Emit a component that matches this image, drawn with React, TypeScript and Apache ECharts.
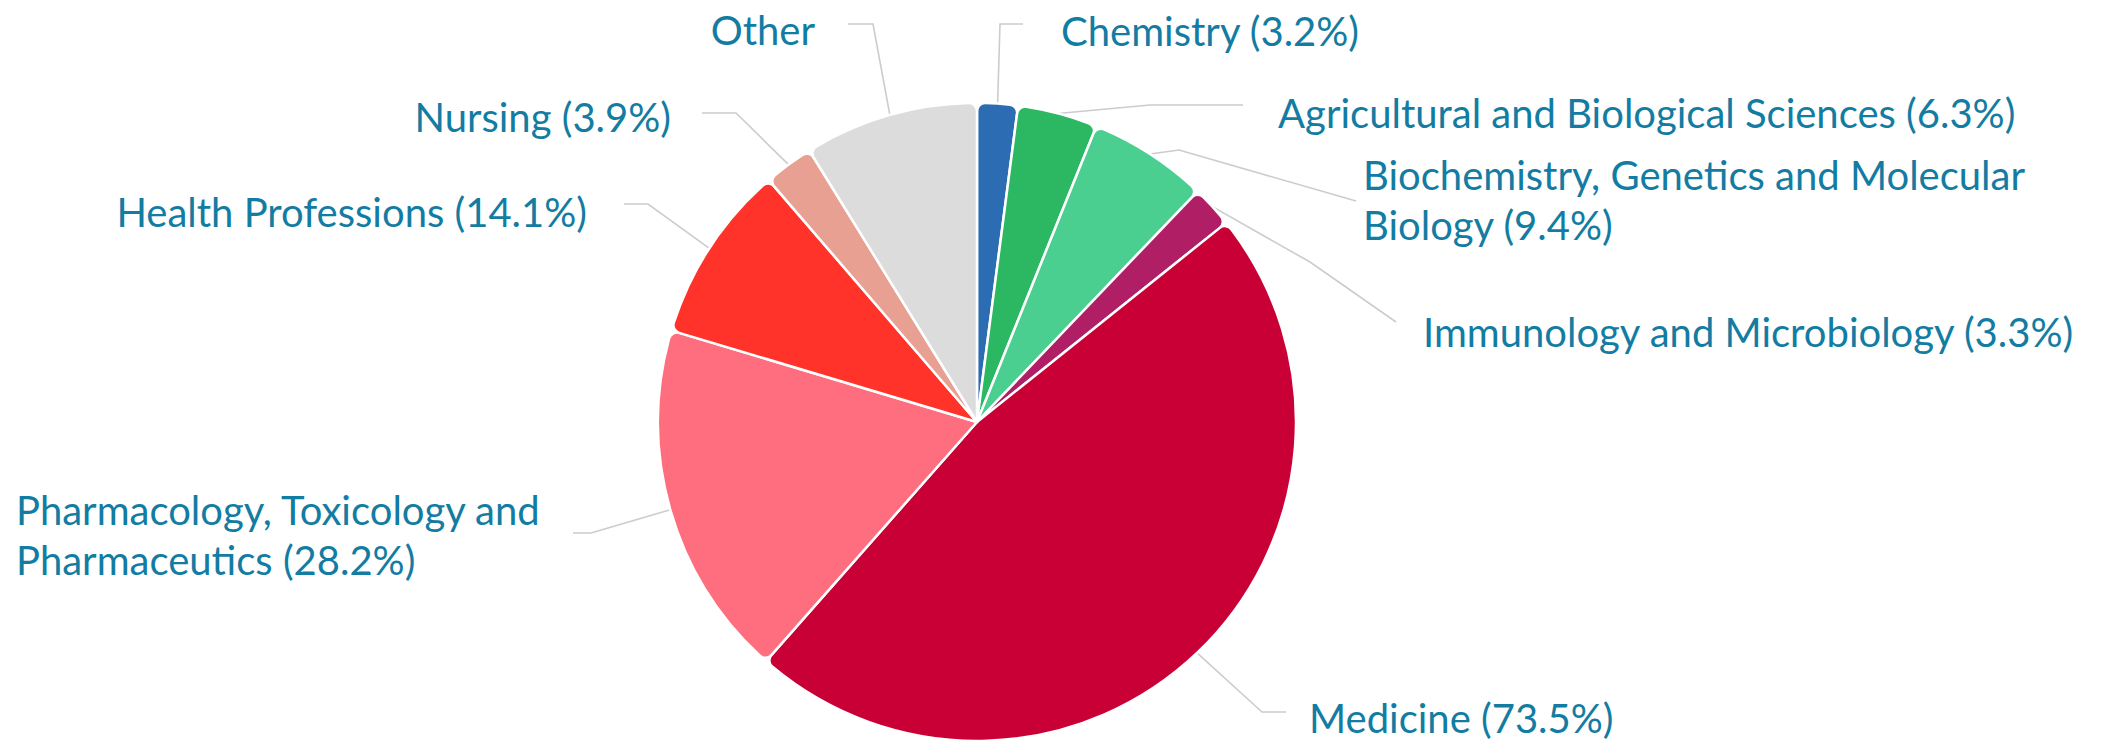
import React, { useEffect, useRef } from "react";
import * as echarts from "echarts";

// ---- data ----
const categories: string[] = [
  "Chemistry",
  "Agricultural and Biological Sciences",
  "Biochemistry, Genetics and Molecular Biology",
  "Immunology and Microbiology",
  "Medicine",
  "Pharmacology, Toxicology and Pharmaceutics",
  "Health Professions",
  "Nursing",
  "Other",
];
// share of documents (%) shown in the labels; "Other" slice size
const percentages: (number | null)[] = [3.2, 6.3, 9.4, 3.3, 73.5, 28.2, 14.1, 3.9, null];
const sliceValues: number[] = [3.2, 6.3, 9.4, 3.3, 73.5, 28.2, 14.1, 3.9, 13.7];
const labelTexts: string[] = [
  "Chemistry",
  "Agricultural and Biological Sciences",
  "Biochemistry, Genetics and Molecular\nBiology",
  "Immunology and Microbiology",
  "Medicine",
  "Pharmacology, Toxicology and\nPharmaceutics",
  "Health Professions",
  "Nursing",
  "Other",
];
const colors: string[] = [
  "#2b6cb3",
  "#2cb863",
  "#4bcf90",
  "#b01f65",
  "#c90035",
  "#ff6e7f",
  "#ff3329",
  "#e8a092",
  "#dcdcdc",
];

// ---- label placement (layout only) ----
// [textX, textY, align, elbowX, elbowY, endX, endY]
const LABEL_LAYOUT: [number, number, "left" | "right", number, number, number, number][] = [
  [1061, 31, "left", 1000, 24, 1023, 24],
  [1278, 113, "left", 1150, 105, 1243, 105],
  [1363, 200, "left", 1179, 150, 1356, 201],
  [1423, 332, "left", 1310, 262, 1396, 322],
  [1309, 718, "left", 1262, 712, 1286, 712],
  [16, 535, "left", 591, 533, 573, 533],
  [587, 212, "right", 648, 204, 624, 204],
  [671, 117, "right", 736, 113, 702, 113],
  [815, 30, "right", 873, 24, 848, 24],
];

export default function App() {
  const ref = useRef<HTMLDivElement>(null);
  useEffect(() => {
    if (!ref.current) return;
    const chart = echarts.init(ref.current, undefined, { renderer: "svg" });
    const data = categories.map((name, i) => ({
      name,
      value: sliceValues[i],
      itemStyle: { color: colors[i] },
      label: {
        formatter:
          percentages[i] == null
            ? labelTexts[i]
            : `${labelTexts[i]} (${percentages[i]}%)`,
        align: "left",
      },
    }));
    chart.setOption({
      animation: false,
      backgroundColor: "#ffffff",
      series: [
        {
          type: "pie",
          center: [977, 422],
          radius: 319,
          startAngle: 90,
          clockwise: true,
          avoidLabelOverlap: false,
          itemStyle: { borderColor: "#ffffff", borderWidth: 2.5, borderRadius: 8 },
          label: {
            show: true,
            position: "outside",
            color: "#137ca2",
            fontFamily: "Lato",
            fontSize: 40,
            lineHeight: 50,
          },
          labelLine: {
            show: true,
            length: 20,
            length2: 20,
            lineStyle: { color: "#cccccc", width: 1.6 },
          },
          labelLayout: (params: any) => {
            const L = LABEL_LAYOUT[params.dataIndex];
            const p0 = params.labelLinePoints ? params.labelLinePoints[0] : [L[3], L[4]];
            return {
              x: L[0],
              y: L[1],
              align: L[2],
              verticalAlign: "middle",
              labelLinePoints: [p0, [L[3], L[4]], [L[5], L[6]]],
            };
          },
          data,
        },
      ],
    });
    return () => chart.dispose();
  }, []);
  return (
    <div
      ref={ref}
      style={{ position: "fixed", left: 0, top: 0, width: 2105, height: 742, background: "#fff" }}
    />
  );
}
